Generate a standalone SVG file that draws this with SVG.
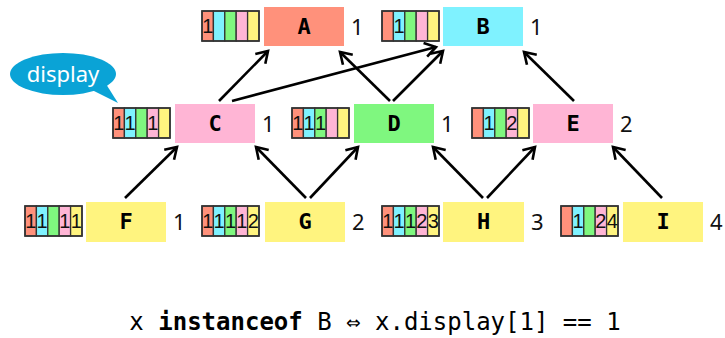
<svg xmlns="http://www.w3.org/2000/svg" width="725" height="338" viewBox="0 0 725 338">
<style>
.n{stroke:none}
.lbl{font-family:"DejaVu Sans Mono",monospace;font-weight:bold;font-size:22px;text-anchor:middle;fill:#000}
.num{font-family:"Noto Sans","DejaVu Sans",sans-serif;font-size:22px;fill:#111}
.cell{stroke:#333;stroke-width:1.3}
.cn{font-family:"Liberation Sans",sans-serif;font-size:20px;text-anchor:middle;fill:#111}
.c0{fill:#FF917B}.c1{fill:#7FF2FF}.c2{fill:#7FF77F}.c3{fill:#FFB5D5}.c4{fill:#FFF47F}
.edge{stroke:#000;stroke-width:2.6;fill:none;marker-end:url(#ah)}
</style>
<defs>
<marker id="ah" markerUnits="userSpaceOnUse" markerWidth="20" markerHeight="20" refX="0" refY="0" viewBox="-14 -10 20 20" orient="auto">
<path d="M-11,-7 L0,0 L-11,7" fill="none" stroke="#000" stroke-width="2.6"/>
</marker>
<g id="arr">
<rect class="cell c0" x="0" y="0" width="11.4" height="30"/>
<rect class="cell c1" x="11.4" y="0" width="11.4" height="30"/>
<rect class="cell c2" x="22.8" y="0" width="11.4" height="30"/>
<rect class="cell c3" x="34.2" y="0" width="11.4" height="30"/>
<rect class="cell c4" x="45.6" y="0" width="11.4" height="30"/>
<rect x="0" y="0" width="57" height="30" fill="none" stroke="#333" stroke-width="1.6"/>
</g>
</defs>
<rect width="725" height="338" fill="#fff"/>

<g id="connectors">
<line class="edge" x1="219" y1="101" x2="268" y2="51"/>
<line class="edge" x1="232" y1="101" x2="436" y2="47"/>
<line class="edge" x1="390" y1="101" x2="340" y2="52"/>
<line class="edge" x1="393" y1="101" x2="443" y2="51"/>
<line class="edge" x1="574" y1="101" x2="524" y2="52"/>
<line class="edge" x1="125" y1="198" x2="177" y2="147"/>
<line class="edge" x1="306" y1="198" x2="256" y2="147"/>
<line class="edge" x1="310" y1="198" x2="358" y2="147"/>
<line class="edge" x1="483" y1="198" x2="433" y2="147"/>
<line class="edge" x1="487" y1="198" x2="535" y2="147"/>
<line class="edge" x1="662" y1="198" x2="613" y2="147"/>
</g>

<g id="bubble">
<ellipse cx="63" cy="74" rx="53" ry="21" fill="#0AA3D6"/>
<polygon points="92,90 118,103 106,84" fill="#0AA3D6"/>
<text x="63" y="82" font-family="'Noto Sans','Open Sans',sans-serif" font-size="22" fill="#fff" text-anchor="middle">display</text>
</g>

<g id="node-A">
<use href="#arr" x="202" y="11"/>
<text class="cn" x="207.7" y="33">1</text>
<rect class="n c0" x="264" y="7" width="80" height="39"/>
<text class="lbl" x="304" y="34">A</text>
<text class="num" x="351" y="35">1</text>
</g>
<g id="node-B">
<use href="#arr" x="382" y="11"/>
<text class="cn" x="399.1" y="33">1</text>
<rect class="n c1" x="443" y="7" width="80" height="39"/>
<text class="lbl" x="483" y="34">B</text>
<text class="num" x="530" y="35">1</text>
</g>
<g id="node-C">
<use href="#arr" x="113" y="108"/>
<text class="cn" x="118.7" y="130">1</text>
<text class="cn" x="130.1" y="130">1</text>
<text class="cn" x="152.9" y="130">1</text>
<rect class="n c3" x="175" y="104" width="80" height="39"/>
<text class="lbl" x="215" y="131">C</text>
<text class="num" x="262" y="132">1</text>
</g>
<g id="node-D">
<use href="#arr" x="292" y="108"/>
<text class="cn" x="297.7" y="130">1</text>
<text class="cn" x="309.1" y="130">1</text>
<text class="cn" x="320.5" y="130">1</text>
<rect class="n c2" x="354" y="104" width="80" height="39"/>
<text class="lbl" x="394" y="131">D</text>
<text class="num" x="441" y="132">1</text>
</g>
<g id="node-E">
<use href="#arr" x="472" y="108"/>
<text class="cn" x="489.1" y="130">1</text>
<text class="cn" x="511.9" y="130">2</text>
<rect class="n c3" x="533" y="104" width="80" height="39"/>
<text class="lbl" x="573" y="131">E</text>
<text class="num" x="620" y="132">2</text>
</g>
<g id="node-F">
<use href="#arr" x="25" y="206"/>
<text class="cn" x="30.7" y="228">1</text>
<text class="cn" x="42.1" y="228">1</text>
<text class="cn" x="64.9" y="228">1</text>
<text class="cn" x="76.3" y="228">1</text>
<rect class="n c4" x="86" y="202" width="80" height="40"/>
<text class="lbl" x="126" y="229">F</text>
<text class="num" x="173" y="230">1</text>
</g>
<g id="node-G">
<use href="#arr" x="202" y="206"/>
<text class="cn" x="207.7" y="228">1</text>
<text class="cn" x="219.1" y="228">1</text>
<text class="cn" x="230.5" y="228">1</text>
<text class="cn" x="241.9" y="228">1</text>
<text class="cn" x="253.3" y="228">2</text>
<rect class="n c4" x="265" y="202" width="80" height="40"/>
<text class="lbl" x="305" y="229">G</text>
<text class="num" x="352" y="230">2</text>
</g>
<g id="node-H">
<use href="#arr" x="382" y="206"/>
<text class="cn" x="387.7" y="228">1</text>
<text class="cn" x="399.1" y="228">1</text>
<text class="cn" x="410.5" y="228">1</text>
<text class="cn" x="421.9" y="228">2</text>
<text class="cn" x="433.3" y="228">3</text>
<rect class="n c4" x="443" y="202" width="81" height="40"/>
<text class="lbl" x="483.5" y="229">H</text>
<text class="num" x="531" y="230">3</text>
</g>
<g id="node-I">
<use href="#arr" x="561" y="206"/>
<text class="cn" x="578.1" y="228">1</text>
<text class="cn" x="600.9" y="228">2</text>
<text class="cn" x="612.3" y="228">4</text>
<rect class="n c4" x="623" y="202" width="80" height="40"/>
<text class="lbl" x="663" y="229">I</text>
<text class="num" x="710" y="230">4</text>
</g>

<text x="375" y="330" font-family="'DejaVu Sans Mono',monospace" font-size="24" text-anchor="middle" fill="#000">x <tspan font-weight="bold">instanceof</tspan> B ⇔ x.display[1] == 1</text>
</svg>
